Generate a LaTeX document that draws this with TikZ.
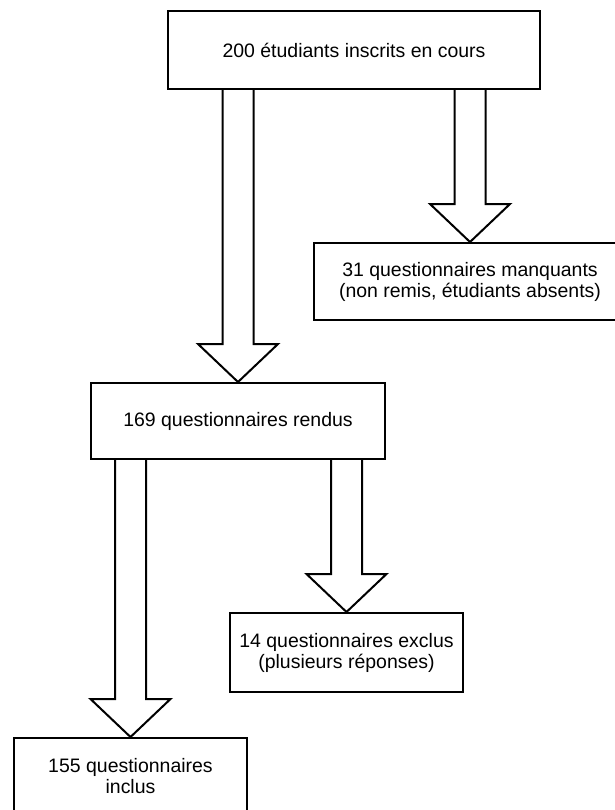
\documentclass[tikz,border=0pt]{standalone}
\usepackage{fontspec}
\setmainfont{Liberation Sans}
\usetikzlibrary{calc}
% hollow block arrow from the bottom of #1 down to the top of #2
\newcommand{\fatarrow}[2]{%
\draw[fat] ($(#1.south -| #2.north)+(-15.5,0)$) -- ($(#2.north)+(-15.5,-38)$)
  -- ($(#2.north)+(-40,-38)$) -- (#2.north) -- ($(#2.north)+(40,-38)$)
  -- ($(#2.north)+(15.5,-38)$) -- ($(#1.south -| #2.north)+(15.5,0)$);}

\begin{document}
\begin{tikzpicture}[x=0.75pt,y=-0.75pt,
  box/.style={draw,line width=1.5pt,rectangle,align=center,inner sep=0pt,
    font=\fontsize{14.6}{15.75}\selectfont},
  fat/.style={draw,line width=1.5pt,fill=white,line join=miter}]
\useasboundingbox (0,0) rectangle (614,810);

\node[box,minimum width=279pt,minimum height=58.5pt](q1) at (354,50) {200 étudiants inscrits en cours};
\node[box,minimum width=234pt,minimum height=57.75pt](q3) at (470,281.5) {31 questionnaires manquants\\(non remis, étudiants absents)};
\node[box,minimum width=220.5pt,minimum height=57pt](q2) at (238,421) {169 questionnaires rendus};
\node[box,minimum width=174.75pt,minimum height=59.25pt](q5) at (346.5,652.5) {14 questionnaires exclus\\(plusieurs réponses)};
\node[box,minimum width=174.75pt,minimum height=57.75pt](q4) at (130.5,776.5) {155 questionnaires\\inclus};

\fatarrow{q1}{q2}
\fatarrow{q1}{q3}
\fatarrow{q2}{q4}
\fatarrow{q2}{q5}

\end{tikzpicture}
\end{document}
